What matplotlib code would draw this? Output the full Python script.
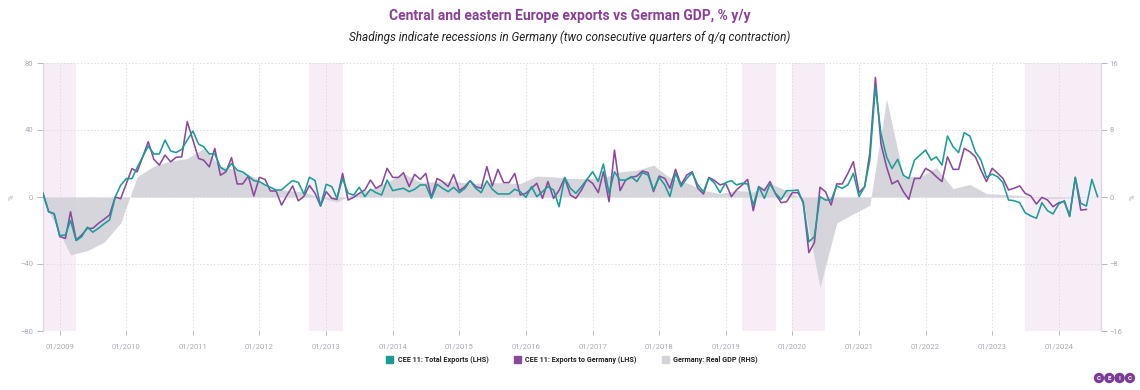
import matplotlib
matplotlib.use('Agg')
import matplotlib.pyplot as plt
import matplotlib.dates as mdates
from matplotlib.patches import Patch, Circle
import pandas as pd
import numpy as np

plt.rcParams['font.family'] = ['Roboto', 'DejaVu Sans']

# ---------------- data ----------------
# Monthly, starting Oct 2008
total_exports = [
    2.2, -8.8, -10,
    -23, -22.7, -14, -26, -23.7, -18, -21, -18.7, -16, -13.7, 0, 7,
    11, 11, 17.5, 24, 30.4, 25.7, 25.7, 34, 27.5, 26.5, 28.5, 34,
    39.4, 31.6, 30, 25.7, 25.7, 17.7, 15.7, 20, 16, 15, 12.5, 9.8,
    9.2, 7.2, 5.8, 4.2, 4.2, 7.2, 9.8, 8.7, 1.7, 11.8, 9.8, -5.4,
    7.6, 6.2, -0.8, 11.1, 2.2, 1.2, 5.8, 0.2, 4.6, 2.6, 1.2, 10.1,
    3.8, 4.6, 5.2, 3.2, 4.6, 7.2, 7.2, -0.8, 7.6, 5.2, 3.2, 5.8,
    2.6, 5.2, 9.6, 5.2, 2.6, 9.6, 4.6, 1.8, 1.8, 1.8, 4.6, 3.2,
    -0.2, 6.2, 0.2, 3.2, 6.2, 4.2, -5.8, 11.7, 5.2, 2.2, 6.2, 10.5,
    15.1, 9.2, 19.7, 2.2, 15.1, 10.1, 10.1, 12.1, 9.2, 14.5, 13.1, 4.2,
    11.7, 7.2, 0.2, 14.1, 6.2, 11.1, 14.5, 7.2, 3.2, 11.5, 8.2, 2.6,
    8.6, 9.8, 7.2, 8.2, 7.8, -4.8, 6.2, -0.8, 7.8, 2.2, -1.4, 3.8,
    3.8, 4.2, -3.8, -26.7, -23.7, 0.2, -1.8, -1.8, 6.6, 5.2, 7.2, 14.1,
    0.2, 6.2, 22, 65.9, 38, 24, 17, 22.5, 13, 11, 22, 25,
    28, 22, 24, 19, 36.4, 30, 26.5, 38.4, 36.4, 27, 22, 11.7,
    13.7, 12, 8.6, -1.8, -2.2, -3.4, -9.4, -11.3, -12.7, -3.4, -8.2, -10.1,
    -4.2, -2.2, -11.7, 11.7, -3.8, -5.4, 10.5, 0.2,
]

exports_germany = [
    2.2, -8.8, -10,
    -23.7, -24.7, -8.8, -25.7, -22.7, -18.7, -18.7, -15.7, -13.3, -10.7, 0, -1,
    8, 17, 15, 24, 33, 22.5, 19, 25, 21, 23.7, 24, 45,
    34, 23, 22, 18, 29, 13, 15, 23.5, 7.8, 7.8, 12.5, 0.6,
    11.7, 10.5, 3.6, 3.6, -4.8, 1.2, 6.6, -2.3, 0.4, 6.9, 2.2, -5.4,
    3.2, -0.8, -1.4, 14.1, -1.8, -0.2, 2.2, 4.2, 10.1, 5.2, 7.2, 17.1,
    11.7, 11.7, 14.5, 6.2, 13.5, 10.5, 14.1, -0.2, 11.1, 9.2, 6.2, 13.5,
    3.8, 6.2, 9.8, 6.2, 5.2, 18.1, 6.6, 16.5, 8.6, 8.6, 14.1, 1.2,
    2.2, 5.2, 8.2, -0.8, 9.2, -0.8, 4, 11.5, 1.2, -0.8, 4.2, 10.5,
    8.2, 2.6, 15.1, -2.8, 28, 3.8, 10.1, 11.7, 12.5, 15.5, 14.5, 3.2,
    12.5, 11.1, 5.2, 16.5, 7.2, 13.1, 15.1, 5.2, 1.8, 11.7, 9.8, 7.2,
    8.2, 0.2, 4.2, 7.2, 10.5, -8.2, 6.2, 3.8, 9.2, 1.8, -3.4, -2.8,
    2.6, 2.6, -2.8, -33.2, -27.3, 5.8, 3.2, -4.8, 7.8, 7.8, 14.1, 21.1,
    2.6, 6.2, 26, 71.4, 32, 18, 7.8, 9.8, 3.2, -1.4, 11.1, 11.1,
    17.1, 15.1, 12.1, 9.2, 24, 16.5, 16.5, 29, 27, 24, 16, 9.2,
    17.1, 14.1, 11.1, 4.2, 5.2, 6.6, 2.2, 0.6, -4.2, -0.2, -1.8, -5.8,
    -3.4, -2.8, -11.3, 11.7, -7.8, -7.4,
]

# Quarterly (plotted at the last month of each quarter), starting Q3 2008
german_gdp = [
    1.0, -3.0,
    -6.9, -6.4, -5.4, -3.1,
    2.4, 3.7, 4.3, 4.6,
    5.8, 3.7, 3.2, 2.4,
    1.0, 0.8, 0.6, -0.1,
    -0.6, 0.4, 0.9, 1.8,
    2.8, 1.8, 1.8, 1.9,
    1.6, 1.7, 1.7, 1.6,
    2.5, 2.4, 2.2, 2.2,
    2.3, 3.0, 3.2, 3.8,
    2.3, 1.7, 0.8, 0.4,
    0.8, 0.6, 1.6, 0.8,
    -0.4, -10.8, -3.1, -2.0,
    -1.0, 11.7, 2.5, 2.4,
    3.5, 1.0, 1.5, 0.4,
    0.3, 0.2, -0.1, -0.2,
    -0.1, 0.0,
]

recession_starts = ['2008-10-01', '2012-10-01', '2019-04-01', '2020-01-01', '2023-07-01']
recession_ends = ['2009-04-01', '2013-04-01', '2019-10-01', '2020-07-01', '2024-08-20']

title = 'Central and eastern Europe exports vs German GDP, % y/y'
subtitle = 'Shadings indicate recessions in Germany (two consecutive quarters of q/q contraction)'
legend_labels = ['CEE 11: Total Exports (LHS)', 'CEE 11: Exports to Germany (LHS)',
                 'Germany: Real GDP (RHS)']

# ---------------- styling ----------------
TEAL = '#1c9c98'
PURPLE = '#8a4a9c'
GREY = '#d4d3db'
SHADE = '#f6edf6'
TICKC = '#a9a9b6'
GRIDC = '#dcdce2'

dates_total = pd.date_range('2008-10-01', periods=len(total_exports), freq='MS')
dates_de = pd.date_range('2008-10-01', periods=len(exports_germany), freq='MS')
dates_gdp = pd.date_range('2008-09-01', periods=len(german_gdp), freq='3MS')

W, H = 1140, 390
fig = plt.figure(figsize=(W / 100, H / 100), dpi=100)
L, R, T, B = 43, 1101, 63, 331
ax2 = fig.add_axes([L / W, 1 - B / H, (R - L) / W, (B - T) / H])
ax = ax2.twinx()
ax.yaxis.set_label_position('left')
ax.yaxis.tick_left()
ax2.yaxis.set_label_position('right')
ax2.yaxis.tick_right()

xmin = pd.Timestamp('2008-10-01')
xmax = pd.Timestamp('2024-08-20')

for s, e in zip(recession_starts, recession_ends):
    ax2.axvspan(pd.Timestamp(s), pd.Timestamp(e), color=SHADE, lw=0, zorder=0)

ax2.fill_between(dates_gdp, german_gdp, 0, color=GREY, lw=0, alpha=0.95, zorder=2)

ax.plot(dates_total, total_exports, color=TEAL, lw=1.15, zorder=4)
ax.plot(dates_de, exports_germany, color=PURPLE, lw=1.15, zorder=3)

ax.set_xlim(xmin, xmax)
ax2.set_xlim(xmin, xmax)
ax.set_ylim(-80, 80)
ax2.set_ylim(-16, 16)
ax.set_yticks([-80, -40, 0, 40, 80])
ax2.set_yticks([-16, -8, 0, 8, 16])

ax2.xaxis.set_major_locator(mdates.YearLocator(1, month=1, day=1))
ax2.xaxis.set_major_formatter(mdates.DateFormatter('%m/%Y'))
ax.xaxis.set_major_locator(mdates.YearLocator(1, month=1, day=1))

ax2.grid(True, axis='x', color=GRIDC, ls=(0, (1.5, 2)), lw=0.7, zorder=1)
for v in [-16, -8, 0, 8, 16]:
    ax2.axhline(v, color=GRIDC, ls=(0, (1.5, 2)), lw=0.7, zorder=1)

for a in (ax, ax2):
    for sp in ['top', 'bottom']:
        a.spines[sp].set_visible(False)
    a.spines['left'].set_color('#ddd6e6')
    a.spines['right'].set_color('#ddd6e6')
    a.spines['left'].set_linewidth(0.8)
    a.spines['right'].set_linewidth(0.8)

ax.tick_params(axis='y', labelsize=5.5, colors=TICKC, length=4, width=0.6, pad=3)
ax2.tick_params(axis='y', labelsize=5.5, colors=TICKC, length=4, width=0.6, pad=2)
ax2.tick_params(axis='x', labelsize=5.5, colors=TICKC, length=3, width=0.6, pad=6)
ax.tick_params(axis='x', bottom=False, labelbottom=False)

ax.set_ylabel('%', fontsize=5.5, color=TICKC, labelpad=4)
ax2.set_ylabel('%', fontsize=5.5, color=TICKC, labelpad=5, rotation=90)

ax.set_zorder(ax2.get_zorder() + 1)
ax.patch.set_visible(False)

# titles
fig.text(0.5, 1 - 16 / H, title, ha='center', va='center', fontsize=10,
         fontweight='bold', color='#8b3f98')
fig.text(0.5, 1 - 37 / H, subtitle, ha='center', va='center', fontsize=8.5,
         fontstyle='italic', color='#222222')

# legend
handles = [Patch(facecolor=TEAL, edgecolor=TEAL), Patch(facecolor=PURPLE, edgecolor=PURPLE),
           Patch(facecolor=GREY, edgecolor=GREY)]
leg = fig.legend(handles, legend_labels, loc='center', bbox_to_anchor=(572 / W, 1 - 360 / H),
                 ncol=3, frameon=False, prop={'size': 5.2, 'weight': 'bold'},
                 handlelength=1.0, handleheight=1.0, columnspacing=3.5, handletextpad=0.6)
for t in leg.get_texts():
    t.set_color('#222222')

# CEIC logo
for i, ch in enumerate('CEIC'):
    cx = (1099 + i * 10.3) / W
    cy = 1 - 378 / H
    fig.patches.append(Circle((cx * W, cy * H), 5.2, transform=None,
                              facecolor='#7a3c96', edgecolor='none'))
    fig.text(cx, cy, ch, ha='center', va='center', fontsize=4.5, color='white',
             fontweight='bold')

fig.savefig('out.png', dpi=100)
